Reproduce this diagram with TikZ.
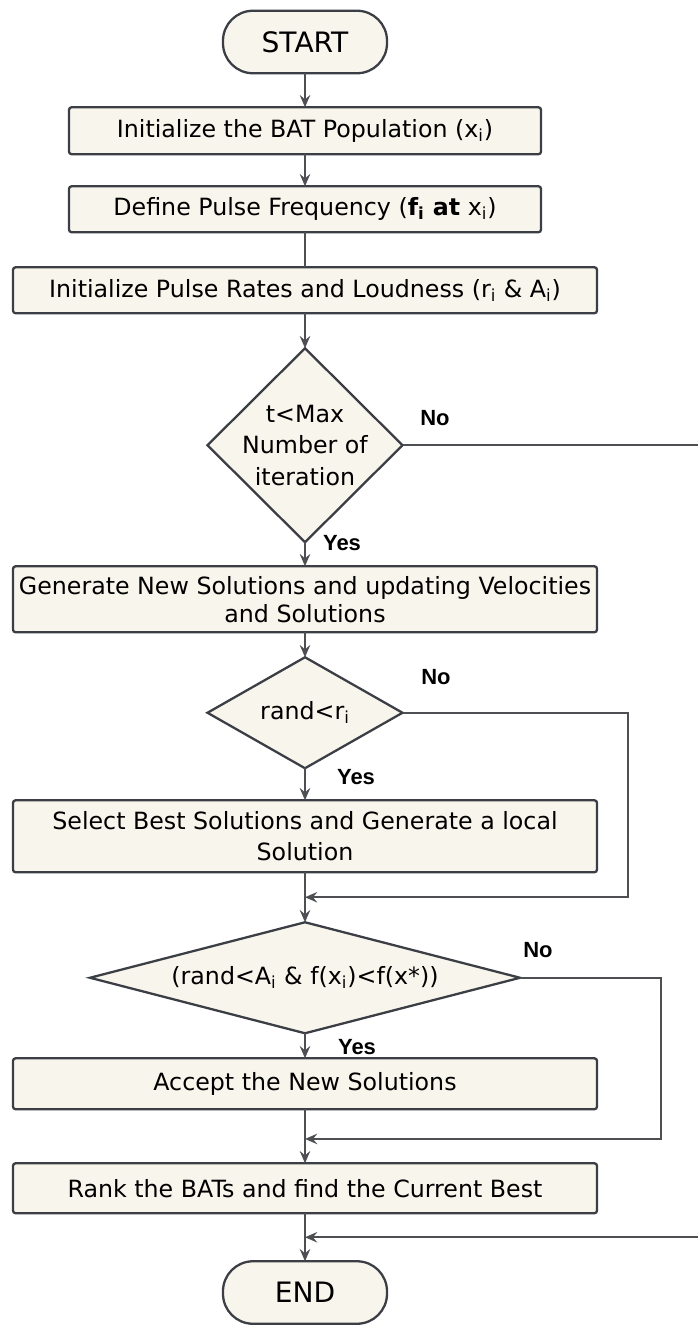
\documentclass[tikz,border=0pt]{standalone}
\usepackage{fontspec}
\setmainfont{DejaVu Sans}
\newfontfamily\answerfont{Liberation Sans}
\usetikzlibrary{shapes.geometric, arrows.meta, positioning, calc}

\definecolor{boxfill}{HTML}{F8F5EC}
\definecolor{boxline}{HTML}{3B3E44}
\definecolor{flowline}{HTML}{4D4F53}

\begin{document}
\begin{tikzpicture}[
    block/.style={rectangle, draw=boxline, fill=boxfill, line width=1.3pt, rounded corners=1.5pt, outer sep=0pt, inner sep=2pt, align=center, minimum width=11.68cm, font=\fontsize{13.5}{16}\selectfont},
    shortblock/.style={block, minimum width=9.44cm},
    terminal/.style={rectangle, draw=boxline, fill=boxfill, line width=1.3pt, rounded corners=0.6cm, outer sep=0pt, minimum width=3.28cm, minimum height=1.25cm, font=\fontsize{16}{18}\selectfont},
    decision/.style={diamond, draw=boxline, fill=boxfill, line width=1.3pt, outer sep=0pt, inner sep=0pt, align=center, font=\fontsize{13.5}{16}\selectfont},
    line/.style={line width=1.1pt, draw=flowline},
    arrow/.style={line, -{Stealth[length=7pt, width=6pt, inset=2.5pt]}},
    answer/.style={font=\answerfont\bfseries\fontsize{12.5}{14}\selectfont}
]
    \useasboundingbox (0,0) rectangle (13.94,-26.5);

    % main column
    \node[terminal] (start) at (6.1,-0.84) {START};
    \node[shortblock, minimum height=0.94cm, below=0.68cm of start] (init) {Initialize the BAT Population (x\textsubscript{i})};
    \node[shortblock, minimum height=0.92cm, below=0.64cm of init] (freq) {Define Pulse Frequency (\textbf{f\textsubscript{i} at} x\textsubscript{i})};
    \node[block, minimum height=0.92cm, below=0.7cm of freq] (rates) {Initialize Pulse Rates and Loudness (r\textsubscript{i} \& A\textsubscript{i})};
    \node[decision, inner sep=-0.1cm, minimum width=3.9cm, minimum height=3.88cm, below=0.7cm of rates, font=\fontsize{13.5}{18}\selectfont] (iter) {t<Max\\Number of\\iteration};
    \node[block, minimum height=1.32cm, below=0.48cm of iter] (update) {Generate New Solutions and updating Velocities\\and Solutions};
    \node[decision, aspect=2, minimum width=3.9cm, minimum height=2.22cm, below=0.5cm of update] (pulse) {rand<r\textsubscript{i}};
    \node[block, minimum height=1.44cm, below=0.64cm of pulse] (local) {Select Best Solutions and Generate a local\\[2pt]Solution};
    \node[decision, aspect=4, minimum width=8.6cm, minimum height=2.22cm, below=1.0cm of local] (loud) {(rand<A\textsubscript{i} \& f(x\textsubscript{i})<f(x*))};
    \node[block, minimum height=1.02cm, below=0.5cm of loud] (accept) {Accept the New Solutions};
    \node[block, minimum height=1.0cm, below=1.08cm of accept] (rank) {Rank the BATs and find the Current Best};
    \node[terminal, below=0.96cm of rank] (stop) {END};

    % yes / no labels
    \node[answer] (no1) at (8.7,-8.36) {No};
    \node[answer] (yes1) at (6.84,-10.86) {Yes};
    \node[answer] (no2) at (8.72,-13.54) {No};
    \node[answer] (yes2) at (7.12,-15.54) {Yes};
    \node[answer] (no3) at (10.76,-19.0) {No};
    \node[answer] (yes3) at (7.14,-20.95) {Yes};

    \foreach \a/\b in {start/init, init/freq, rates/iter, iter/update, update/pulse, pulse/local, local/loud, loud/accept, accept/rank, rank/stop}
        \draw[arrow] (\a) -- (\b);
    \draw[line] (freq) -- (rates);

    % loop-back rails on the right
    \coordinate (rail1) at (14.0,0);
    \coordinate (rail2) at (12.56,0);
    \coordinate (rail3) at (13.22,0);
    \coordinate (join1) at ($(local.south)!0.5!(loud.north)$);
    \coordinate (join2) at ($(accept.south)!0.55!(rank.north)$);
    \coordinate (join3) at ($(rank.south)!0.5!(stop.north)$);

    \draw[arrow] (iter.east) -- (iter.east -| rail1) |- (join3);
    \draw[arrow] (pulse.east) -- (pulse.east -| rail2) |- (join1);
    \draw[arrow] (loud.east) -- (loud.east -| rail3) |- (join2);
\end{tikzpicture}
\end{document}
